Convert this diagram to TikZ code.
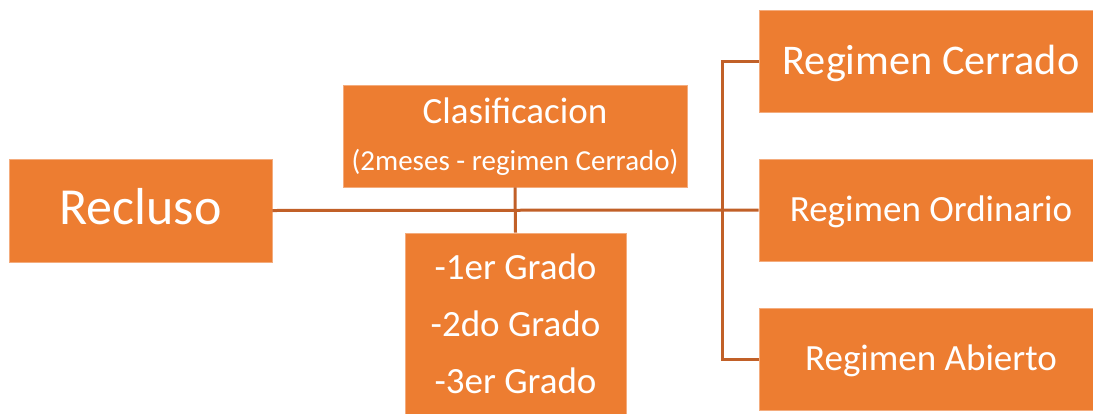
\documentclass[tikz,border=0pt]{standalone}
\usepackage{fontspec}
\setmainfont{Carlito}
\definecolor{boxfill}{RGB}{237,125,49}
\definecolor{linecol}{RGB}{193,96,40}
\definecolor{boxedge}{RGB}{244,172,125}
\begin{document}
\begin{tikzpicture}[x=1pt,y=-1pt,
  box/.style={fill=boxfill, draw=boxedge, line width=0.6pt, inner sep=0pt, text=white, anchor=center},
  conn/.style={draw=linecol, line width=3pt},
  txt/.style={text=white, inner sep=0pt, anchor=base}]
\useasboundingbox (0,0) rectangle (1093,413);
% boxes
\node[box, minimum width=263pt, minimum height=103pt, font=\fontsize{52}{60}\selectfont, text height=28pt, text depth=0pt] (recluso) at (140.5,210.5) {Recluso};
\node[box, minimum width=344pt, minimum height=102pt] (clas) at (515,136) {};
\node[box, minimum width=221pt, minimum height=182pt] (grados) at (515.5,324) {};
\node[box, minimum width=344pt, minimum height=102pt, font=\fontsize{42.3}{50}\selectfont, text height=27pt, text depth=0pt] (cerrado) at (931,61) {Regimen Cerrado};
\node[box, minimum width=344pt, minimum height=102pt, font=\fontsize{37}{45}\selectfont, text height=22pt, text depth=0pt] (ordinario) at (931,210) {Regimen Ordinario};
\node[box, minimum width=344pt, minimum height=102pt, font=\fontsize{37}{45}\selectfont, text height=22pt, text depth=0pt] (abierto) at (931,359) {Regimen Abierto};
% texts inside multi-line boxes
\node[txt, font=\fontsize{37}{45}\selectfont] (clasA) at (515,123) {Clasificacion};
\node[txt, font=\fontsize{29}{35}\selectfont] (clasB) at (515,170) {(2meses - regimen Cerrado)};
\node[txt, font=\fontsize{37}{45}\selectfont] (g1) at (515.5,279) {-1er Grado};
\node[txt, font=\fontsize{37}{45}\selectfont] (g2) at (515.5,336) {-2do Grado};
\node[txt, font=\fontsize{37}{45}\selectfont] (g3) at (515.5,393) {-3er Grado};
% connectors
\draw[conn] (recluso.east) -- (ordinario.west);
\draw[conn] (clas.south) -- (grados.north);
\draw[conn] (cerrado.west) -- ++(-36,0) coordinate (bend) |- (abierto.west);
\end{tikzpicture}
\end{document}
